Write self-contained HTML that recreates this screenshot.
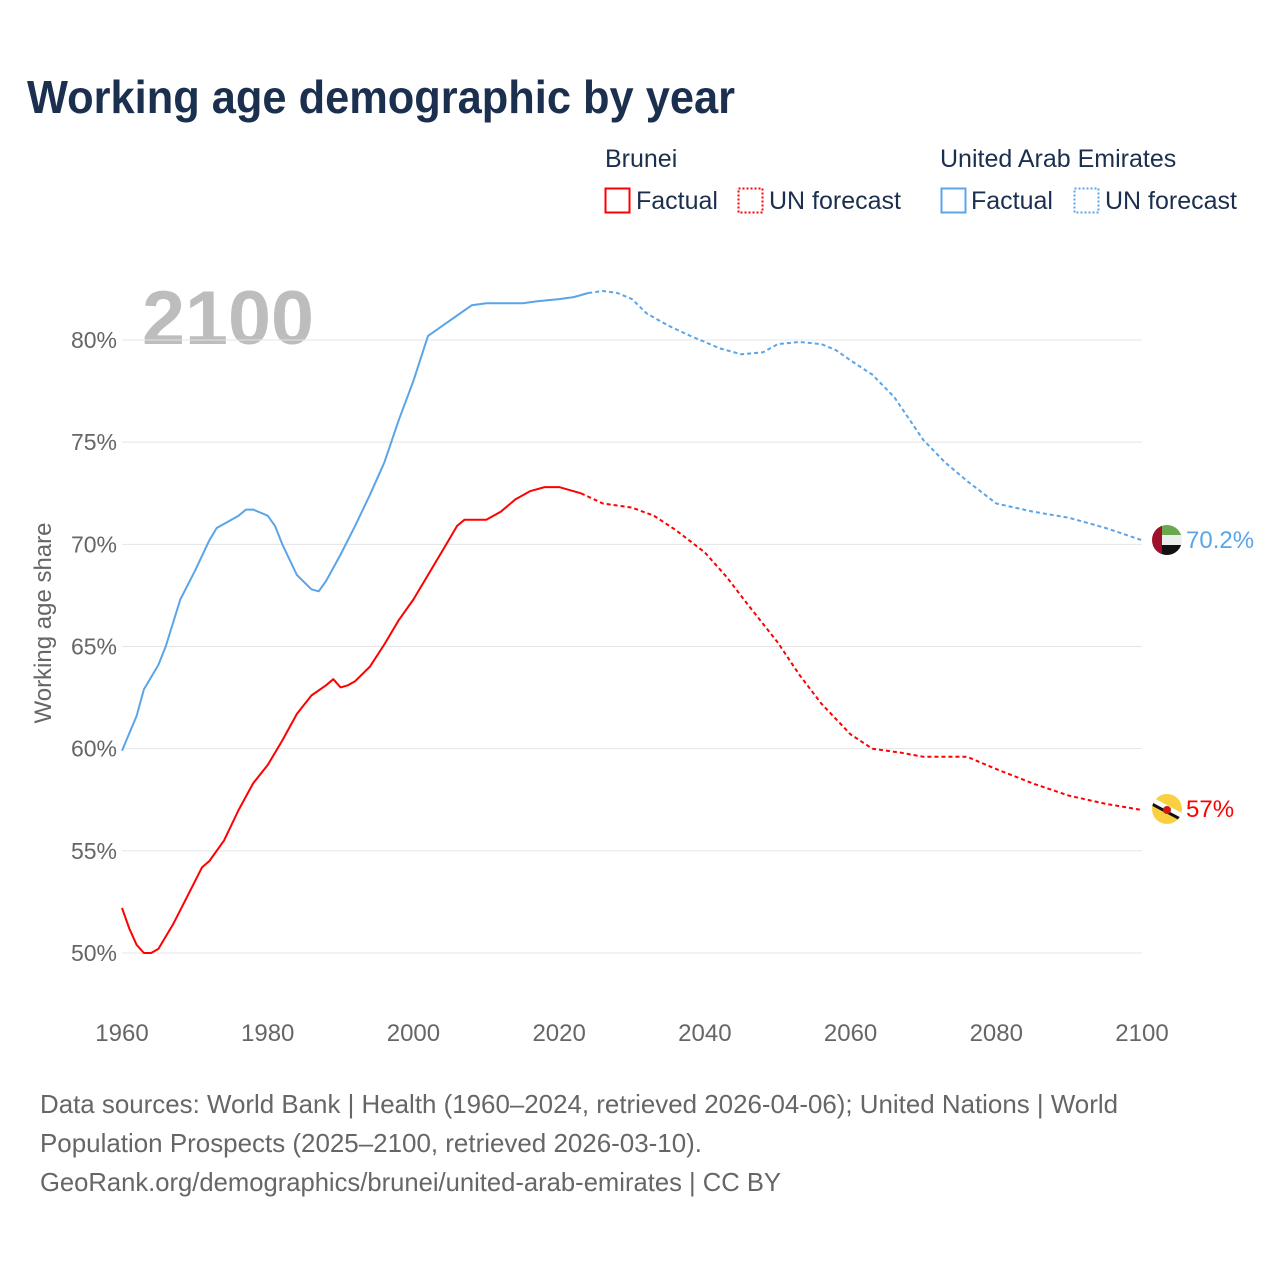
<!DOCTYPE html>
<html><head><meta charset="utf-8"><style>
body{margin:0;background:#fff;font-family:"Liberation Sans",sans-serif;}
#wrap{position:relative;width:1280px;height:1280px;overflow:hidden;}
</style></head><body>
<div id="wrap">
<svg id="chart" width="1280" height="1280" style="position:absolute;left:0;top:0">
<defs><clipPath id="cu"><circle cx="1167" cy="540" r="15"/></clipPath><clipPath id="cb"><circle cx="1167" cy="809" r="15"/></clipPath></defs>
<text x="27" y="113" font-size="46" font-weight="bold" fill="#1b2f4e" textLength="708" lengthAdjust="spacingAndGlyphs">Working age demographic by year</text>
<g font-size="25" fill="#1b2f4e">
<text x="605" y="167">Brunei</text>
<rect x="605.5" y="188.5" width="24" height="24" fill="none" stroke="#f00" stroke-width="2"/>
<text x="636" y="209">Factual</text>
<rect x="738.5" y="188.5" width="24" height="24" fill="none" stroke="#f00" stroke-width="2" stroke-dasharray="2,2"/>
<text x="769" y="209">UN forecast</text>
<text x="940" y="167">United Arab Emirates</text>
<rect x="941.5" y="188.5" width="24" height="24" fill="none" stroke="#5aa5e8" stroke-width="2"/>
<text x="971" y="209">Factual</text>
<rect x="1074.5" y="188.5" width="24" height="24" fill="none" stroke="#5aa5e8" stroke-width="2" stroke-dasharray="2,2"/>
<text x="1105" y="209">UN forecast</text>
</g>
<text x="142" y="344" font-size="76" font-weight="bold" fill="#bdbdbd" textLength="172" lengthAdjust="spacingAndGlyphs">2100</text>
<g id="grid"></g><g id="axes"></g><g id="series"></g>
<text transform="translate(51,623) rotate(-90)" text-anchor="middle" font-size="24" fill="#666">Working age share</text>
<g clip-path="url(#cu)">
<rect x="1152" y="525" width="30" height="10" fill="#6aa84f"/><rect x="1152" y="535" width="30" height="10" fill="#eee"/><rect x="1152" y="545" width="30" height="10" fill="#111"/><rect x="1152" y="525" width="10" height="30" fill="#a0102a"/></g>
<g clip-path="url(#cb)">
<rect x="1152" y="794" width="30" height="30" fill="#f8d040"/><line x1="1150" y1="800" x2="1184" y2="818" stroke="#fff" stroke-width="7"/><line x1="1150" y1="803" x2="1184" y2="821" stroke="#111" stroke-width="3"/><circle cx="1167" cy="810" r="4" fill="#d01818"/></g>
<text x="1186" y="548" font-size="24" fill="#5aa5e8">70.2%</text>
<text x="1186" y="817" font-size="24" fill="#f00">57%</text>
<g font-size="26" fill="#666">
<text x="40" y="1113" textLength="1078" lengthAdjust="spacingAndGlyphs">Data sources: World Bank | Health (1960–2024, retrieved 2026-04-06); United Nations | World</text>
<text x="40" y="1152" textLength="662" lengthAdjust="spacingAndGlyphs">Population Prospects (2025–2100, retrieved 2026-03-10).</text>
<text x="40" y="1191" textLength="741" lengthAdjust="spacingAndGlyphs">GeoRank.org/demographics/brunei/united-arab-emirates | CC BY</text>
</g>
</svg>
</div>
<script>
const yTicks=[50,55,60,65,70,75,80];
const xTicks=[1960,1980,2000,2020,2040,2060,2080,2100];
const uaeFactYears=[1960,1962,1963,1965,1966,1968,1970,1972,1973,1976,1977,1978,1980,1981,1982,1984,1986,1987,1988,1990,1992,1994,1996,1998,2000,2002,2004,2006,2008,2010,2015,2017,2020,2022,2024];
const uaeFactVals=[59.9,61.6,62.9,64.1,65.0,67.3,68.7,70.2,70.8,71.4,71.7,71.7,71.4,70.9,70.0,68.5,67.8,67.7,68.2,69.5,70.9,72.4,74.0,76.1,78.0,80.2,80.7,81.2,81.7,81.8,81.8,81.9,82.0,82.1,82.3];
const uaeFcYears=[2024,2026,2028,2030,2032,2035,2038,2040,2042,2045,2048,2050,2053,2056,2058,2060,2063,2066,2070,2073,2076,2080,2085,2090,2095,2100];
const uaeFcVals=[82.3,82.4,82.3,82.0,81.3,80.7,80.2,79.9,79.6,79.3,79.4,79.8,79.9,79.8,79.5,79.0,78.3,77.2,75.1,74.0,73.1,72.0,71.6,71.3,70.8,70.2];
const bruFactYears=[1960,1961,1962,1963,1964,1965,1967,1969,1971,1972,1974,1976,1978,1980,1982,1984,1986,1988,1989,1990,1991,1992,1994,1996,1998,2000,2002,2004,2006,2007,2010,2012,2014,2016,2018,2020,2023];
const bruFactVals=[52.2,51.2,50.4,50.0,50.0,50.2,51.4,52.8,54.2,54.5,55.5,57.0,58.3,59.2,60.4,61.7,62.6,63.1,63.4,63.0,63.1,63.3,64.0,65.1,66.3,67.3,68.5,69.7,70.9,71.2,71.2,71.6,72.2,72.6,72.8,72.8,72.5];
const bruFcYears=[2023,2026,2030,2033,2036,2040,2043,2046,2050,2053,2056,2060,2063,2067,2070,2076,2080,2085,2090,2095,2100];
const bruFcVals=[72.5,72.0,71.8,71.4,70.7,69.6,68.4,67.0,65.2,63.6,62.2,60.7,60.0,59.8,59.6,59.6,59.0,58.3,57.7,57.3,57.0];
const NS="http://www.w3.org/2000/svg";
const xs=y=>122+(y-1960)*(1020/140);
const ys=v=>953-(v-50)*(613/30);
const grid=document.getElementById('grid'),axes=document.getElementById('axes'),ser=document.getElementById('series');
yTicks.forEach(t=>{
 const l=document.createElementNS(NS,'line');
 l.setAttribute('x1',122);l.setAttribute('x2',1142);l.setAttribute('y1',ys(t));l.setAttribute('y2',ys(t));
 l.setAttribute('stroke','#e4e4e4');l.setAttribute('stroke-width',1);
 
 
 grid.appendChild(l);
 const tx=document.createElementNS(NS,'text');
 tx.setAttribute('x',117);tx.setAttribute('y',ys(t)+8);tx.setAttribute('text-anchor','end');
 tx.setAttribute('font-size',23);tx.setAttribute('fill','#666');tx.textContent=t+'%';
 
 
 axes.appendChild(tx);
});
xTicks.forEach(t=>{
 const tx=document.createElementNS(NS,'text');
 tx.setAttribute('x',xs(t));tx.setAttribute('y',1041);tx.setAttribute('text-anchor','middle');
 tx.setAttribute('font-size',24);tx.setAttribute('fill','#666');tx.textContent=t;
 
 
 axes.appendChild(tx);
});
function line(yrs,vals,color,dash,name){
 const p=document.createElementNS(NS,'path');
 p.setAttribute('d',yrs.map((y,i)=>(i?'L':'M')+xs(y).toFixed(1)+','+ys(vals[i]).toFixed(1)).join(''));
 p.setAttribute('fill','none');p.setAttribute('stroke',color);p.setAttribute('stroke-width',2);
 p.setAttribute('stroke-linejoin','round');
 if(dash)p.setAttribute('stroke-dasharray','4,3');
 
 
 ser.appendChild(p);
}
line(uaeFactYears,uaeFactVals,'#5aa5e8',false,'uae-factual-line');
line(uaeFcYears,uaeFcVals,'#5aa5e8',true,'uae-forecast-line');
line(bruFactYears,bruFactVals,'#f00',false,'brunei-factual-line');
line(bruFcYears,bruFcVals,'#f00',true,'brunei-forecast-line');
</script>
</body></html>
